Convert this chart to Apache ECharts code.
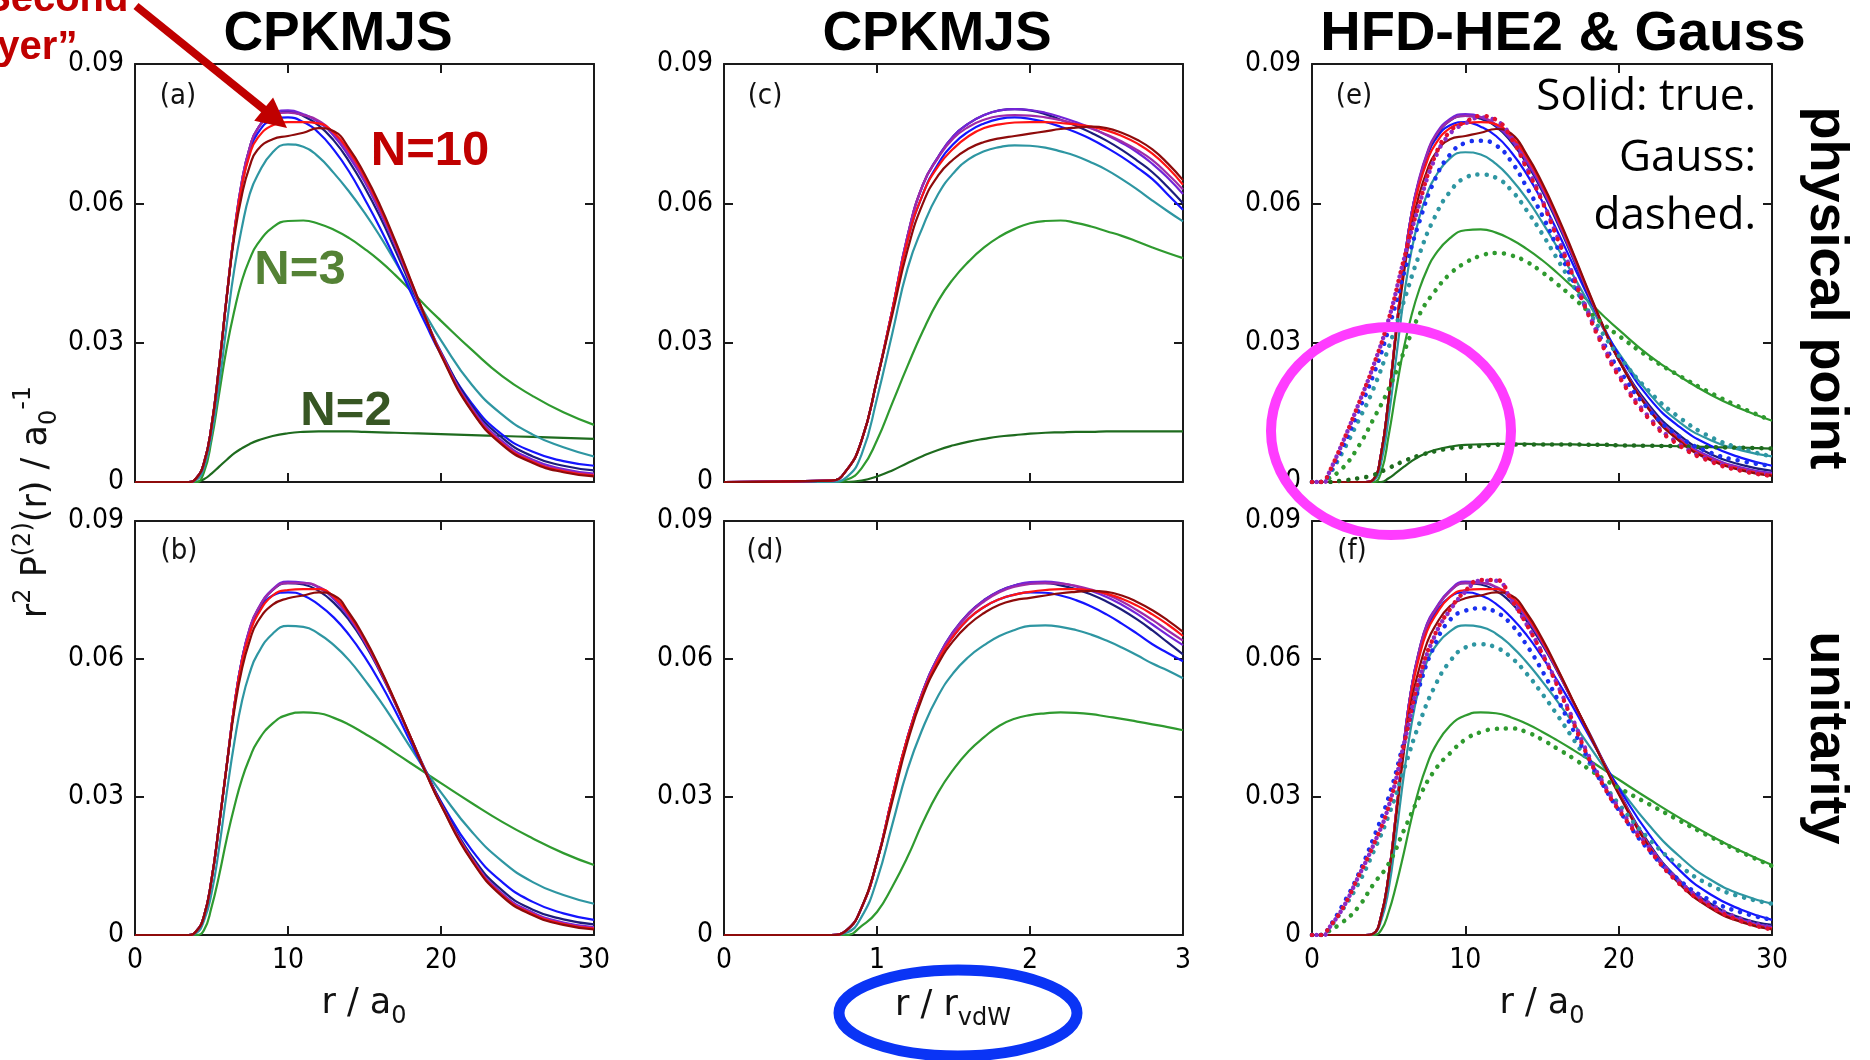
<!DOCTYPE html>
<html><head><meta charset="utf-8">
<script src="https://cdn.jsdelivr.net/npm/echarts/dist/echarts.min.js"></script>
<style>html,body{margin:0;padding:0;background:#fff}#c{width:1870px;height:1060px}</style>
</head><body><div id="c"></div>
<script>
// ---------- tick labels ----------
const yTicks = ['0', '0.03', '0.06', '0.09'];
const xTicksR = ['0', '10', '20', '30'];
const xTicksV = ['0', '1', '2', '3'];

// ---------- x grids ----------
const R  = [0, 3.5, 4, 4.5, 5, 5.5, 6, 6.5, 7, 7.5, 8, 9, 10, 11, 12, 13, 14, 15, 16, 17, 18, 19, 20, 22, 24, 26, 28, 30];
const V  = [0, 0.7, 0.8, 0.9, 1.0, 1.1, 1.2, 1.3, 1.4, 1.5, 1.6, 1.7, 1.8, 1.9, 2.0, 2.1, 2.2, 2.3, 2.4, 2.5, 2.6, 2.7, 2.8, 2.9, 3.0];
const RG = [0, 0.8, 1, 2, 3, 4, 5, 6, 7, 8, 9, 10, 11, 12, 13, 14, 15, 16, 17, 18, 19, 20, 22, 24, 26, 28, 30];

// ---------- panel (a): CPKMJS, physical point, r/a0 ----------
const a_N2  = [0,0,0,0.0006,0.0018,0.0033,0.0048,0.0062,0.0073,0.0082,0.0089,0.0099,0.0105,0.0108,0.0109,0.0109,0.0109,0.0108,0.0107,0.0106,0.0105,0.0104,0.0103,0.0101,0.0099,0.0097,0.0095,0.0093];
const a_N3  = [0,0,0,0.002,0.009,0.019,0.029,0.037,0.0435,0.048,0.0512,0.0548,0.0562,0.0563,0.0556,0.0543,0.0525,0.0502,0.0476,0.0446,0.0413,0.0379,0.0347,0.0285,0.0228,0.0185,0.015,0.0123];
const a_N4  = [0,0,0.0004,0.003,0.010,0.021,0.034,0.046,0.055,0.062,0.066,0.071,0.0727,0.0722,0.070,0.0665,0.0625,0.058,0.053,0.0475,0.0418,0.036,0.0305,0.021,0.0145,0.0102,0.0075,0.0055];
const a_N5  = [0,0,0.0008,0.004,0.012,0.025,0.040,0.054,0.064,0.071,0.075,0.0780,0.0785,0.0775,0.0752,0.0715,0.0668,0.061,0.0548,0.048,0.041,0.034,0.0275,0.0170,0.0102,0.0065,0.0045,0.0035];
const a_N6  = [0,0,0.0008,0.004,0.012,0.025,0.040,0.054,0.065,0.072,0.076,0.0792,0.0798,0.0788,0.0768,0.0735,0.069,0.0635,0.0572,0.050,0.0425,0.035,0.0280,0.0165,0.0095,0.0055,0.0035,0.0025];
const a_N7  = [0,0,0.0008,0.004,0.012,0.025,0.040,0.054,0.065,0.072,0.076,0.0793,0.0800,0.0792,0.0775,0.0745,0.070,0.0647,0.0582,0.051,0.043,0.0352,0.0278,0.016,0.0088,0.0048,0.0028,0.0018];
const a_N8  = [0,0,0.0008,0.004,0.012,0.025,0.040,0.054,0.065,0.072,0.076,0.0790,0.0795,0.0790,0.0778,0.0750,0.0707,0.0652,0.0587,0.0513,0.0432,0.0352,0.0276,0.0157,0.0085,0.0045,0.0025,0.0016];
const a_N9  = [0,0,0.0008,0.004,0.012,0.025,0.040,0.054,0.064,0.0705,0.074,0.0768,0.0775,0.0775,0.0772,0.0752,0.0712,0.0658,0.0592,0.0517,0.0435,0.0353,0.0275,0.0155,0.0082,0.0043,0.0023,0.0014];
const a_N10 = [0,0,0.0008,0.004,0.012,0.025,0.040,0.053,0.062,0.068,0.0715,0.0738,0.0745,0.0752,0.0762,0.0755,0.0718,0.0663,0.0597,0.052,0.0437,0.0353,0.0273,0.0153,0.008,0.0041,0.0021,0.0012];

// ---------- panel (b): CPKMJS, unitarity, r/a0 ----------
const b_N3  = [0,0,0,0.001,0.006,0.013,0.021,0.028,0.034,0.0385,0.042,0.046,0.0479,0.0484,0.0482,0.0472,0.0457,0.0438,0.0418,0.0396,0.0374,0.0352,0.033,0.0287,0.0246,0.021,0.0178,0.0152];
const b_N4  = [0,0,0.0004,0.003,0.009,0.019,0.031,0.042,0.051,0.057,0.061,0.0655,0.0672,0.0670,0.0655,0.063,0.0597,0.0555,0.051,0.046,0.0408,0.0357,0.031,0.0225,0.016,0.0115,0.0087,0.0068];
const b_N5  = [0,0,0.0008,0.004,0.012,0.024,0.037,0.050,0.060,0.066,0.0700,0.0738,0.0745,0.0738,0.0718,0.069,0.0652,0.0605,0.055,0.0488,0.042,0.0353,0.029,0.0185,0.0115,0.0072,0.0047,0.0033];
const b_N6  = [0,0,0.0008,0.004,0.012,0.024,0.037,0.050,0.060,0.0665,0.0705,0.0750,0.0765,0.0762,0.0748,0.0722,0.0684,0.0634,0.0573,0.0504,0.0431,0.0357,0.0288,0.0172,0.0097,0.0055,0.0034,0.0023];
const b_N7  = [0,0,0.0008,0.004,0.012,0.024,0.037,0.050,0.060,0.0667,0.0707,0.0752,0.0768,0.0766,0.0755,0.073,0.069,0.0638,0.0575,0.0505,0.043,0.0355,0.0285,0.0167,0.009,0.0049,0.0027,0.0017];
const b_N8  = [0,0,0.0008,0.004,0.012,0.024,0.037,0.050,0.060,0.0666,0.0706,0.0750,0.0765,0.0765,0.0757,0.0733,0.0693,0.064,0.0577,0.0506,0.043,0.0354,0.0284,0.0166,0.0088,0.0047,0.0025,0.0015];
const b_N9  = [0,0,0.0008,0.004,0.012,0.024,0.037,0.050,0.0595,0.0655,0.0695,0.0738,0.0750,0.0752,0.0752,0.0735,0.0696,0.0643,0.0579,0.0507,0.0431,0.0354,0.0283,0.0164,0.0086,0.0045,0.0024,0.0014];
const b_N10 = [0,0,0.0008,0.004,0.012,0.024,0.037,0.049,0.058,0.064,0.068,0.0718,0.0732,0.0738,0.0745,0.0738,0.0700,0.0646,0.0581,0.0508,0.0431,0.0353,0.0282,0.0162,0.0084,0.0043,0.0022,0.0012];

// ---------- panel (c): CPKMJS, physical point, r/rvdW ----------
const c_N2  = [0,0,0,0.0003,0.0012,0.0025,0.0041,0.0056,0.0069,0.0079,0.0087,0.0093,0.0098,0.0101,0.0104,0.0106,0.0107,0.0108,0.0108,0.0109,0.0109,0.0109,0.0109,0.0109,0.0109];
const c_N3  = [0,0,0.0005,0.003,0.009,0.017,0.025,0.0325,0.039,0.0438,0.0475,0.0505,0.0528,0.0545,0.0557,0.0562,0.0563,0.0558,0.0550,0.0540,0.0530,0.0518,0.0505,0.0493,0.0482];
const c_N4  = [0,0,0.001,0.006,0.018,0.032,0.046,0.055,0.062,0.0665,0.0695,0.0712,0.0721,0.0725,0.0724,0.072,0.0712,0.0702,0.0688,0.0672,0.0652,0.063,0.0606,0.0583,0.0561];
const c_N5  = [0,0.0003,0.0025,0.009,0.022,0.037,0.052,0.062,0.0685,0.0728,0.0755,0.0772,0.0782,0.0785,0.0782,0.0775,0.0765,0.0753,0.0738,0.072,0.070,0.0677,0.0652,0.0619,0.0586];
const c_N6  = [0,0.0003,0.0025,0.009,0.022,0.037,0.053,0.064,0.070,0.0745,0.0772,0.0790,0.0800,0.0803,0.0800,0.0792,0.078,0.0767,0.0752,0.0735,0.0715,0.0692,0.0667,0.0635,0.0600];
const c_N7  = [0,0.0003,0.0025,0.009,0.022,0.037,0.053,0.064,0.070,0.0745,0.0772,0.0790,0.0800,0.0803,0.0801,0.0795,0.0786,0.0775,0.0762,0.0747,0.073,0.071,0.0685,0.0655,0.0620];
const c_N8  = [0,0.0003,0.0025,0.009,0.022,0.037,0.053,0.064,0.0698,0.0740,0.0765,0.0780,0.0788,0.0790,0.0789,0.0785,0.0779,0.0771,0.0761,0.0748,0.0733,0.0715,0.0693,0.0663,0.0630];
const c_N9  = [0,0.0003,0.0025,0.009,0.022,0.037,0.052,0.062,0.0680,0.0718,0.0745,0.0762,0.0770,0.0774,0.0775,0.0775,0.0773,0.0770,0.0765,0.0757,0.0745,0.0729,0.0707,0.0677,0.0640];
const c_N10 = [0,0.0003,0.0025,0.009,0.022,0.036,0.050,0.060,0.066,0.0695,0.0718,0.0732,0.0740,0.0745,0.0750,0.0755,0.0760,0.0763,0.0765,0.0762,0.0752,0.0737,0.0716,0.0686,0.0650];

// ---------- panel (d): CPKMJS, unitarity, r/rvdW ----------
const d_N3  = [0,0,0,0.002,0.005,0.0105,0.017,0.0245,0.031,0.036,0.040,0.043,0.0455,0.047,0.0478,0.0482,0.0484,0.0483,0.048,0.0475,0.047,0.0464,0.0458,0.0452,0.0445];
const d_N4  = [0,0,0.0005,0.004,0.012,0.024,0.036,0.045,0.052,0.057,0.0605,0.063,0.065,0.0663,0.0672,0.0673,0.067,0.0663,0.0653,0.064,0.0625,0.0608,0.059,0.0575,0.0558];
const d_N5  = [0,0,0.001,0.006,0.016,0.030,0.043,0.053,0.060,0.065,0.0688,0.0713,0.0730,0.0740,0.0745,0.0744,0.0738,0.0728,0.0714,0.0697,0.0677,0.0655,0.0632,0.0613,0.0595];
const d_N6  = [0,0,0.001,0.006,0.016,0.030,0.043,0.053,0.0605,0.066,0.070,0.0728,0.0748,0.0760,0.0765,0.0765,0.0760,0.0752,0.0740,0.0725,0.0707,0.0686,0.0662,0.0636,0.0610];
const d_N7  = [0,0,0.001,0.006,0.016,0.030,0.043,0.053,0.0605,0.066,0.070,0.0728,0.0748,0.076,0.0767,0.0768,0.0765,0.0758,0.0748,0.0735,0.0718,0.0698,0.0675,0.0652,0.0630];
const d_N8  = [0,0,0.001,0.006,0.016,0.030,0.043,0.053,0.0603,0.0657,0.0697,0.0725,0.0745,0.0757,0.0763,0.0765,0.0764,0.0759,0.0751,0.074,0.0725,0.0706,0.0685,0.0662,0.0640];
const d_N9  = [0,0,0.001,0.006,0.016,0.030,0.043,0.0525,0.0598,0.0650,0.0688,0.0713,0.0730,0.0740,0.0746,0.0750,0.0752,0.0752,0.0749,0.0742,0.0731,0.0716,0.0697,0.0675,0.0650];
const d_N10 = [0,0,0.001,0.006,0.016,0.029,0.042,0.052,0.059,0.064,0.0675,0.0700,0.0718,0.0728,0.0733,0.0738,0.0743,0.0746,0.0748,0.0746,0.0738,0.0724,0.0706,0.0684,0.0659];

// ---------- panel (e): HFD-HE2 true (solid) & Gauss (dotted), physical point ----------
const e_N2  = [0,0,0,0,0.0008,0.002,0.0033,0.0045,0.0055,0.0063,0.0069,0.0076,0.0080,0.0081,0.0082,0.0082,0.0082,0.0081,0.0081,0.0081,0.0080,0.0080,0.0079,0.0078,0.0077,0.0075,0.0074,0.0072];
const e_N3  = [0,0,0,0.002,0.010,0.020,0.029,0.036,0.0415,0.0457,0.0488,0.0525,0.0542,0.0544,0.0537,0.0522,0.0502,0.0478,0.045,0.042,0.039,0.0358,0.0328,0.0272,0.0227,0.0188,0.0157,0.0132];
const e_N4  = [0,0,0.0003,0.004,0.014,0.027,0.040,0.050,0.057,0.062,0.0655,0.0697,0.071,0.0705,0.0685,0.0652,0.061,0.056,0.0505,0.0447,0.0388,0.033,0.0278,0.019,0.0128,0.009,0.0068,0.0055];
const e_N5  = [0,0,0.0005,0.006,0.018,0.033,0.047,0.058,0.065,0.0700,0.0735,0.0768,0.0775,0.0765,0.0745,0.071,0.0663,0.0605,0.054,0.047,0.040,0.0335,0.0275,0.018,0.0118,0.0078,0.0052,0.0035];
const e_N6  = [0,0,0.0005,0.006,0.018,0.033,0.047,0.058,0.065,0.0705,0.074,0.0778,0.0788,0.0782,0.0765,0.0732,0.0686,0.0627,0.0558,0.0483,0.0405,0.0332,0.0265,0.0165,0.0100,0.0060,0.0037,0.0024];
const e_N7  = [0,0,0.0005,0.006,0.018,0.033,0.047,0.058,0.0655,0.0708,0.0745,0.0782,0.0792,0.0786,0.0768,0.0736,0.069,0.0632,0.0563,0.0487,0.0408,0.0332,0.0263,0.0160,0.0094,0.0054,0.0031,0.0019];
const e_N8  = [0,0,0.0005,0.006,0.018,0.033,0.047,0.058,0.0652,0.0705,0.0742,0.0778,0.0788,0.0785,0.0770,0.0740,0.0695,0.0636,0.0566,0.049,0.041,0.0333,0.0263,0.0158,0.0091,0.0051,0.0029,0.0017];
const e_N9  = [0,0,0.0005,0.006,0.018,0.033,0.047,0.057,0.064,0.0690,0.0725,0.0762,0.0772,0.0775,0.0770,0.0745,0.0700,0.064,0.057,0.0493,0.0412,0.0334,0.0263,0.0156,0.0089,0.0049,0.0027,0.0015];
const e_N10 = [0,0,0.0005,0.006,0.018,0.032,0.045,0.055,0.062,0.067,0.0705,0.0738,0.0745,0.0752,0.0760,0.0750,0.0705,0.0645,0.0574,0.0496,0.0414,0.0335,0.0263,0.0155,0.0087,0.0047,0.0025,0.0013];
const e_G2  = [0,0,0,0.0003,0.0008,0.0015,0.003,0.0045,0.0057,0.0066,0.0072,0.0075,0.0078,0.0080,0.0081,0.0081,0.0081,0.0081,0.0081,0.0080,0.0080,0.0079,0.0078,0.0077,0.0075,0.0074,0.0072];
const e_G3  = [0,0,0.0005,0.003,0.0075,0.0135,0.020,0.028,0.036,0.041,0.0448,0.0472,0.0487,0.0493,0.0488,0.0474,0.0452,0.0426,0.0398,0.0368,0.034,0.0315,0.0268,0.0228,0.0192,0.016,0.0132];
const e_G4  = [0,0,0.0008,0.0065,0.013,0.020,0.029,0.039,0.049,0.057,0.0625,0.0655,0.0662,0.0655,0.0628,0.0585,0.0535,0.048,0.0425,0.037,0.0318,0.0272,0.0195,0.0138,0.0097,0.0072,0.0055];
const e_G5  = [0,0,0.001,0.0075,0.015,0.023,0.033,0.045,0.056,0.065,0.0705,0.073,0.0735,0.0725,0.069,0.0635,0.0575,0.0505,0.0435,0.0365,0.030,0.0243,0.0155,0.0097,0.0063,0.0045,0.0035];
const e_G7  = [0,0,0.0012,0.0085,0.0165,0.025,0.035,0.048,0.0598,0.0695,0.075,0.0772,0.0785,0.0778,0.0742,0.0678,0.0608,0.0528,0.0448,0.0366,0.0294,0.0232,0.0139,0.0081,0.0047,0.0027,0.0016];
const e_G10 = [0,0,0.0012,0.0085,0.0165,0.025,0.035,0.048,0.060,0.070,0.0755,0.0775,0.0788,0.078,0.074,0.0675,0.0605,0.0525,0.0445,0.0362,0.029,0.0228,0.0135,0.0078,0.0044,0.0024,0.0013];

// ---------- panel (f): HFD-HE2 true (solid) & Gauss (dotted), unitarity ----------
const f_N3  = [0,0,0,0.001,0.005,0.011,0.018,0.0255,0.032,0.037,0.0408,0.0455,0.0477,0.0484,0.0482,0.0473,0.0459,0.0442,0.0423,0.0403,0.0382,0.036,0.0338,0.0295,0.0254,0.0216,0.0182,0.0152];
const f_N4  = [0,0,0.0003,0.003,0.010,0.022,0.035,0.046,0.054,0.0595,0.0625,0.0660,0.0673,0.0670,0.0655,0.0628,0.0593,0.0552,0.0508,0.0462,0.0415,0.0367,0.0322,0.0238,0.0170,0.0120,0.0088,0.0068];
const f_N5  = [0,0,0.0003,0.004,0.013,0.027,0.042,0.054,0.0615,0.0668,0.0698,0.0735,0.0745,0.0738,0.072,0.069,0.0652,0.0605,0.0553,0.0497,0.0437,0.0377,0.032,0.0218,0.0140,0.0088,0.0055,0.0033];
const f_N6  = [0,0,0.0003,0.004,0.013,0.027,0.042,0.054,0.062,0.0675,0.0705,0.0748,0.0765,0.0762,0.0748,0.0722,0.0683,0.0632,0.0573,0.0508,0.0445,0.0378,0.0312,0.0198,0.0118,0.0068,0.0037,0.0022];
const f_N7  = [0,0,0.0003,0.004,0.013,0.027,0.042,0.054,0.062,0.0677,0.0707,0.0750,0.0768,0.0766,0.0755,0.073,0.0689,0.0636,0.0575,0.0508,0.0443,0.0376,0.031,0.0195,0.0116,0.0064,0.0033,0.0017];
const f_N8  = [0,0,0.0003,0.004,0.013,0.027,0.042,0.054,0.0618,0.0673,0.0704,0.0747,0.0765,0.0765,0.0757,0.0733,0.0692,0.0638,0.0576,0.0509,0.0443,0.0376,0.0309,0.0194,0.0114,0.0062,0.0031,0.0015];
const f_N9  = [0,0,0.0003,0.004,0.013,0.027,0.041,0.053,0.0605,0.066,0.0692,0.0735,0.0750,0.0752,0.0752,0.0735,0.0695,0.0641,0.0578,0.051,0.0443,0.0375,0.0308,0.0192,0.0112,0.006,0.003,0.0014];
const f_N10 = [0,0,0.0003,0.004,0.013,0.026,0.040,0.051,0.058,0.0635,0.067,0.0715,0.0732,0.0738,0.0745,0.0738,0.0700,0.0645,0.058,0.0511,0.0443,0.0374,0.0306,0.019,0.011,0.0058,0.0028,0.0012];
const f_G3  = [0,0,0.0006,0.0028,0.006,0.011,0.0155,0.0228,0.030,0.0358,0.0395,0.0425,0.0441,0.0448,0.0449,0.0441,0.0425,0.0405,0.0385,0.0362,0.034,0.032,0.0284,0.0248,0.0213,0.018,0.015];
const f_G4  = [0,0,0.0008,0.0055,0.011,0.018,0.026,0.036,0.046,0.054,0.0595,0.0625,0.0632,0.0625,0.0603,0.0568,0.0525,0.0478,0.0428,0.0378,0.033,0.0285,0.0208,0.015,0.0108,0.0083,0.0068];
const f_G5  = [0,0,0.001,0.0065,0.013,0.021,0.030,0.042,0.054,0.063,0.0685,0.0705,0.071,0.0702,0.0675,0.063,0.0575,0.0513,0.0448,0.0385,0.0325,0.0272,0.0183,0.0118,0.0075,0.0049,0.0033];
const f_G7  = [0,0,0.001,0.0058,0.0125,0.0195,0.028,0.0415,0.0555,0.065,0.0706,0.0746,0.077,0.077,0.0728,0.0675,0.0614,0.0545,0.047,0.0393,0.033,0.0277,0.019,0.0115,0.0067,0.0035,0.0016];
const f_G10 = [0,0,0.001,0.0058,0.0125,0.0195,0.028,0.0415,0.0558,0.0652,0.0708,0.0748,0.0772,0.0772,0.0729,0.0675,0.0612,0.0542,0.0465,0.0388,0.0325,0.0272,0.0185,0.011,0.0062,0.0030,0.0012];

// ---------- styling ----------
const COL = {2:'#1e6b1e', 3:'#2f9a2f', 4:'#2e96a2', 5:'#1414ff', 6:'#1c1c7c', 7:'#7424d8', 8:'#a02aa8', 9:'#ff1414', 10:'#8e0b0b'};
const DOT = {2:'#1e6b1e', 3:'#2f9a2f', 4:'#2e96a2', 5:'#1a30f0', 7:'#8a2cc8', 10:'#e01030'};
const TICKF = "'DejaVu Sans Condensed','DejaVu Sans',sans-serif";
const BOLDF = "'Liberation Sans',Arial,sans-serif";
const AXC = '#1a1a1a';

const panels = [
  {grid:{left:135, top:64,  width:459, height:418}, xmax:30, xint:10, xl:xTicksR, showX:false,
   solid:[[R,a_N2,2],[R,a_N3,3],[R,a_N4,4],[R,a_N5,5],[R,a_N6,6],[R,a_N7,7],[R,a_N8,8],[R,a_N9,9],[R,a_N10,10]], dots:[]},
  {grid:{left:135, top:521, width:459, height:414}, xmax:30, xint:10, xl:xTicksR, showX:true,
   solid:[[R,b_N3,3],[R,b_N4,4],[R,b_N5,5],[R,b_N6,6],[R,b_N7,7],[R,b_N8,8],[R,b_N9,9],[R,b_N10,10]], dots:[]},
  {grid:{left:724, top:64,  width:459, height:418}, xmax:3, xint:1, xl:xTicksV, showX:false,
   solid:[[V,c_N2,2],[V,c_N3,3],[V,c_N4,4],[V,c_N5,5],[V,c_N6,6],[V,c_N7,7],[V,c_N8,8],[V,c_N9,9],[V,c_N10,10]], dots:[]},
  {grid:{left:724, top:521, width:459, height:414}, xmax:3, xint:1, xl:xTicksV, showX:true,
   solid:[[V,d_N3,3],[V,d_N4,4],[V,d_N5,5],[V,d_N6,6],[V,d_N7,7],[V,d_N8,8],[V,d_N9,9],[V,d_N10,10]], dots:[]},
  {grid:{left:1312, top:64,  width:460, height:418}, xmax:30, xint:10, xl:xTicksR, showX:false,
   solid:[[R,e_N2,2],[R,e_N3,3],[R,e_N4,4],[R,e_N5,5],[R,e_N6,6],[R,e_N7,7],[R,e_N8,8],[R,e_N9,9],[R,e_N10,10]],
   dots:[[RG,e_G2,2],[RG,e_G3,3],[RG,e_G4,4],[RG,e_G5,5],[RG,e_G7,7],[RG,e_G10,10]]},
  {grid:{left:1312, top:521, width:460, height:414}, xmax:30, xint:10, xl:xTicksR, showX:true,
   solid:[[R,f_N3,3],[R,f_N4,4],[R,f_N5,5],[R,f_N6,6],[R,f_N7,7],[R,f_N8,8],[R,f_N9,9],[R,f_N10,10]],
   dots:[[RG,f_G3,3],[RG,f_G4,4],[RG,f_G5,5],[RG,f_G7,7],[RG,f_G10,10]]}
];

const grids = [], xAxes = [], yAxes = [], series = [];
function axLine(){ return {show:true, onZero:false, lineStyle:{color:AXC, width:2}}; }
function axTick(){ return {show:true, inside:true, length:9, lineStyle:{color:AXC, width:2}}; }
panels.forEach((p, gi) => {
  grids.push(Object.assign({show:false, containLabel:false}, p.grid));
  [['bottom', p.showX], ['top', false]].forEach(([pos, lab]) => {
    xAxes.push({type:'value', gridIndex:gi, position:pos, min:0, max:p.xmax, interval:p.xint,
      axisLine:axLine(), axisTick:axTick(), splitLine:{show:false},
      axisLabel:{show:lab, margin:12, color:'#000', fontFamily:TICKF, fontSize:28,
        formatter:v => p.xl[Math.round(v / p.xint)]}});
  });
  [['left', true], ['right', false]].forEach(([pos, lab]) => {
    yAxes.push({type:'value', gridIndex:gi, position:pos, min:0, max:0.09, interval:0.03,
      axisLine:axLine(), axisTick:axTick(), splitLine:{show:false},
      axisLabel:{show:lab, margin:11, color:'#000', fontFamily:TICKF, fontSize:28,
        formatter:v => yTicks[Math.round(v / 0.03)]}});
  });
  p.solid.forEach(([xs, ys, n]) => {
    series.push({type:'line', name:'N=' + n, xAxisIndex:2*gi, yAxisIndex:2*gi,
      data:xs.map((x, i) => [x, ys[i]]), symbol:'none', smooth:0.5,
      lineStyle:{color:COL[n], width:2.2}, silent:true, z:3});
  });
  p.dots.forEach(([xs, ys, n]) => {
    series.push({type:'line', name:'Gauss N=' + n, xAxisIndex:2*gi, yAxisIndex:2*gi,
      data:xs.map((x, i) => [x, ys[i]]), symbol:'none', smooth:0.5,
      lineStyle:{color:DOT[n], width:4.5, type:[0.1, 9], cap:'round', dashOffset:(n === 7 ? 4.5 : 0)},
      silent:true, z:4});
  });
});

// ---------- annotations ----------
function txt(x, y, text, o) {
  return Object.assign({type:'text', x, y, z:50, silent:true,
    style:Object.assign({text, align:'center', verticalAlign:'middle', fill:'#000'}, o.style || {})},
    o.rotation !== undefined ? {rotation:o.rotation} : {});
}
const g = [];
g.push(txt(338, 35, 'CPKMJS', {style:{fontFamily:BOLDF, fontWeight:'bold', fontSize:55}}));
g.push(txt(937, 35, 'CPKMJS', {style:{fontFamily:BOLDF, fontWeight:'bold', fontSize:55}}));
g.push(txt(1563, 35, 'HFD-HE2 & Gauss', {style:{fontFamily:BOLDF, fontWeight:'bold', fontSize:56}}));
g.push(txt(1826, 288, 'physical point', {rotation:-Math.PI/2, style:{fontFamily:BOLDF, fontWeight:'bold', fontSize:54}}));
g.push(txt(1826, 738, 'unitarity', {rotation:-Math.PI/2, style:{fontFamily:BOLDF, fontWeight:'bold', fontSize:54}}));
[['(a)',178,96],['(b)',179,551],['(c)',765,96],['(d)',765,551],['(e)',1354,96],['(f)',1352,551]].forEach(([t,x,y]) =>
  g.push(txt(x, y, t, {style:{fontFamily:TICKF, fontSize:29, fill:'#111'}})));
[['Solid: true.',97],['Gauss:',158],['dashed.',216]].forEach(([t,y]) =>
  g.push(txt(1756, y, t, {style:{fontFamily:"'Open Sans','Noto Sans',sans-serif", fontSize:44, align:'right', fill:'#000'}})));
g.push(txt(430, 151, 'N=10', {style:{fontFamily:BOLDF, fontWeight:'bold', fontSize:49, fill:'#c00000'}}));
g.push(txt(300, 270, 'N=3', {style:{fontFamily:BOLDF, fontWeight:'bold', fontSize:49, fill:'#548235'}}));
g.push(txt(346, 411, 'N=2', {style:{fontFamily:BOLDF, fontWeight:'bold', fontSize:49, fill:'#375623'}}));
g.push(txt(-36, 0, '“Second', {style:{fontFamily:BOLDF, fontWeight:'bold', fontSize:40, fill:'#c00000', align:'left'}}));
g.push(txt(-36, 48, 'layer”', {style:{fontFamily:BOLDF, fontWeight:'bold', fontSize:40, fill:'#c00000', align:'left'}}));
(function(){
  const A0 = [136, 6], A1 = [287, 128];
  const dx = A1[0]-A0[0], dy = A1[1]-A0[1], L = Math.hypot(dx, dy), ux = dx/L, uy = dy/L;
  const hl = 30, hw = 15, bx = A1[0]-ux*hl, by = A1[1]-uy*hl;
  g.push({type:'line', z:60, silent:true, shape:{x1:A0[0], y1:A0[1], x2:bx+ux*2, y2:by+uy*2}, style:{stroke:'#c00000', lineWidth:8}});
  g.push({type:'polygon', z:60, silent:true, shape:{points:[A1, [bx-uy*hw, by+ux*hw], [bx+uy*hw, by-ux*hw]]}, style:{fill:'#c00000'}});
})();
const richBase = {
  m:{fontFamily:"'DejaVu Sans',sans-serif", fontSize:35, lineHeight:50, fill:'#111'},
  sub:{fontFamily:"'DejaVu Sans',sans-serif", fontSize:24, verticalAlign:'bottom', fill:'#111'},
  sup:{fontFamily:"'DejaVu Sans',sans-serif", fontSize:24, verticalAlign:'top', fill:'#111'}
};
g.push({type:'text', x:37, y:502, rotation:Math.PI/2, z:50, silent:true,
  style:{text:'{m|r}{sup|2}{m| P}{sup|(2)}{m|(r) / a}{sub|0}{sup|-1}', rich:richBase, align:'center', verticalAlign:'middle'}});
g.push({type:'text', x:364, y:1004, z:50, silent:true,
  style:{text:'{m|r / a}{sub|0}', rich:richBase, align:'center', verticalAlign:'middle'}});
g.push({type:'text', x:953, y:1006, z:50, silent:true,
  style:{text:'{m|r / r}{sub|vdW}', rich:richBase, align:'center', verticalAlign:'middle'}});
g.push({type:'text', x:1542, y:1004, z:50, silent:true,
  style:{text:'{m|r / a}{sub|0}', rich:richBase, align:'center', verticalAlign:'middle'}});
g.push({type:'ellipse', z:80, silent:true, shape:{cx:1391, cy:431, rx:120, ry:104}, style:{fill:'none', stroke:'#ff3cff', lineWidth:10}});
g.push({type:'ellipse', z:80, silent:true, shape:{cx:958, cy:1013, rx:119, ry:43}, style:{fill:'none', stroke:'#0a34f5', lineWidth:11}});

const chart = echarts.init(document.getElementById('c'), null, {renderer:'canvas', width:1870, height:1060});
chart.setOption({
  backgroundColor:'#ffffff', animation:false,
  grid:grids, xAxis:xAxes, yAxis:yAxes, series:series, graphic:g
});
</script></body></html>
